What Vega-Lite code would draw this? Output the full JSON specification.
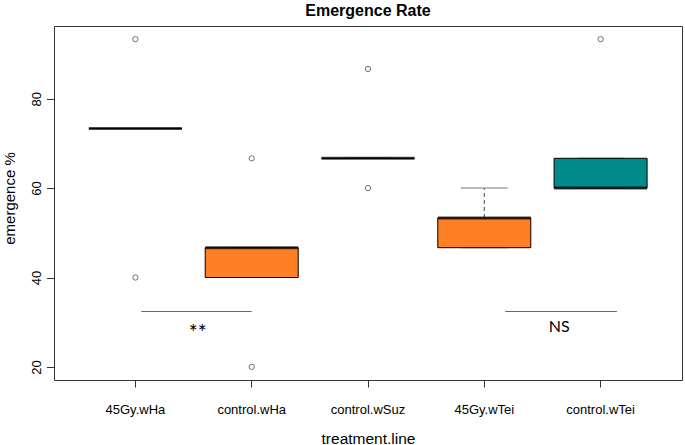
{
  "$schema": "https://vega.github.io/schema/vega-lite/v6.json",
  "width": 628,
  "height": 354,
  "autosize": {"type": "none"},
  "padding": {"left": 54, "top": 26, "right": 3, "bottom": 65},
  "background": "white",
  "title": {"text": "Emergence Rate", "font": "Liberation Sans", "fontSize": 16, "fontWeight": "bold", "color": "black", "anchor": "middle", "baseline": "alphabetic", "offset": -6},
  "config": {
    "view": {"stroke": "#333", "strokeWidth": 1},
    "font": "Liberation Sans",
    "boxplot": {"median": {"color": "black"}}
  },
  "datasets": {
    "obs": [
      {"treatment": "45Gy.wHa", "emergence": 93.33},
      {"treatment": "45Gy.wHa", "emergence": 73.33},
      {"treatment": "45Gy.wHa", "emergence": 73.33},
      {"treatment": "45Gy.wHa", "emergence": 73.33},
      {"treatment": "45Gy.wHa", "emergence": 40},
      {"treatment": "control.wHa", "emergence": 66.67},
      {"treatment": "control.wHa", "emergence": 46.67},
      {"treatment": "control.wHa", "emergence": 46.67},
      {"treatment": "control.wHa", "emergence": 40},
      {"treatment": "control.wHa", "emergence": 20},
      {"treatment": "control.wSuz", "emergence": 86.67},
      {"treatment": "control.wSuz", "emergence": 66.67},
      {"treatment": "control.wSuz", "emergence": 66.67},
      {"treatment": "control.wSuz", "emergence": 66.67},
      {"treatment": "control.wSuz", "emergence": 60},
      {"treatment": "45Gy.wTei", "emergence": 60},
      {"treatment": "45Gy.wTei", "emergence": 53.33},
      {"treatment": "45Gy.wTei", "emergence": 53.33},
      {"treatment": "45Gy.wTei", "emergence": 46.67},
      {"treatment": "45Gy.wTei", "emergence": 46.67},
      {"treatment": "control.wTei", "emergence": 93.33},
      {"treatment": "control.wTei", "emergence": 66.67},
      {"treatment": "control.wTei", "emergence": 60},
      {"treatment": "control.wTei", "emergence": 60},
      {"treatment": "control.wTei", "emergence": 60}
    ]
  },
  "layer": [
    {
      "data": {"name": "obs"},
      "encoding": {
        "x": {
          "field": "treatment", "type": "nominal",
          "sort": ["45Gy.wHa", "control.wHa", "control.wSuz", "45Gy.wTei", "control.wTei"],
          "scale": {"paddingInner": 0.2, "paddingOuter": 0.3},
          "axis": {
            "title": "treatment.line", "titleFontSize": 15.5, "titleFontWeight": "normal", "titleColor": "black",
            "titleBaseline": "alphabetic", "titleY": 63, "titleX": 314,
            "labelAngle": 0, "labelFontSize": 13, "labelColor": "black", "labelBaseline": "alphabetic", "labelPadding": 26,
            "tickSize": 7, "tickColor": "#333", "domain": false, "grid": false
          }
        },
        "y": {
          "field": "emergence", "type": "quantitative",
          "scale": {"domain": [17.07, 96.27], "nice": false, "zero": false},
          "axis": {
            "values": [20, 40, 60, 80],
            "title": "emergence %", "titleFontSize": 15, "titleFontWeight": "normal", "titleColor": "black",
            "titleAngle": 270, "titleBaseline": "alphabetic", "titleX": -40, "titleY": 172,
            "labelAngle": 270, "labelAlign": "center", "labelBaseline": "alphabetic", "labelPadding": 6,
            "labelFontSize": 13, "labelColor": "black",
            "tickSize": 7.5, "tickColor": "#333", "domain": false, "grid": false
          }
        }
      },
      "layer": [
        {
          "mark": {
            "type": "boxplot",
            "extent": 1.5,
            "size": 93,
            "box": {"stroke": "black", "strokeWidth": 1},
            "median": false,
            "rule": {"color": "#444", "strokeDash": [4, 3], "strokeWidth": 1},
            "ticks": {"color": "#777", "size": 47},
            "outliers": false
          },
          "encoding": {
            "color": {
              "field": "treatment", "type": "nominal",
              "scale": {"domain": ["45Gy.wHa", "control.wHa", "control.wSuz", "45Gy.wTei", "control.wTei"],
                        "range": ["#FF7F24", "#FF7F24", "#008B8B", "#FF7F24", "#008B8B"]},
              "legend": null
            }
          }
        },
        {
          "mark": {
            "type": "boxplot",
            "extent": 1.5,
            "size": 93,
            "color": "black",
            "box": false,
            "rule": false,
            "ticks": false,
            "median": {"color": "black", "fill": "black", "thickness": 3},
            "outliers": {"shape": "circle", "filled": false, "color": "#333", "size": 28, "strokeWidth": 1}
          }
        }
      ]
    },
    {
      "data": {"values": [
        {"start": 1.05, "end": 2.0, "level": 32.4},
        {"start": 4.18, "end": 5.14, "level": 32.4}
      ]},
      "mark": {"type": "rule", "color": "#666", "strokeWidth": 1},
      "encoding": {
        "x": {"field": "start", "type": "quantitative", "scale": {"domain": [0.3, 5.7], "nice": false, "zero": false}, "axis": null},
        "x2": {"field": "end"},
        "y": {"field": "level", "type": "quantitative"}
      }
    },
    {
      "data": {"values": [
        {"pos": 1.536, "level": 26.0, "label": "**"}
      ]},
      "mark": {"type": "text", "font": "Lato", "fontSize": 21, "color": "black", "baseline": "alphabetic", "align": "center"},
      "encoding": {
        "x": {"field": "pos", "type": "quantitative", "scale": {"domain": [0.3, 5.7], "nice": false, "zero": false}, "axis": null},
        "y": {"field": "level", "type": "quantitative"},
        "text": {"field": "label"}
      }
    },
    {
      "data": {"values": [
        {"pos": 4.645, "level": 27.7, "label": "NS"}
      ]},
      "mark": {"type": "text", "font": "Lato", "fontSize": 16, "color": "black", "baseline": "alphabetic", "align": "center"},
      "encoding": {
        "x": {"field": "pos", "type": "quantitative", "scale": {"domain": [0.3, 5.7], "nice": false, "zero": false}, "axis": null},
        "y": {"field": "level", "type": "quantitative"},
        "text": {"field": "label"}
      }
    }
  ],
  "resolve": {"scale": {"x": "independent"}}
}
